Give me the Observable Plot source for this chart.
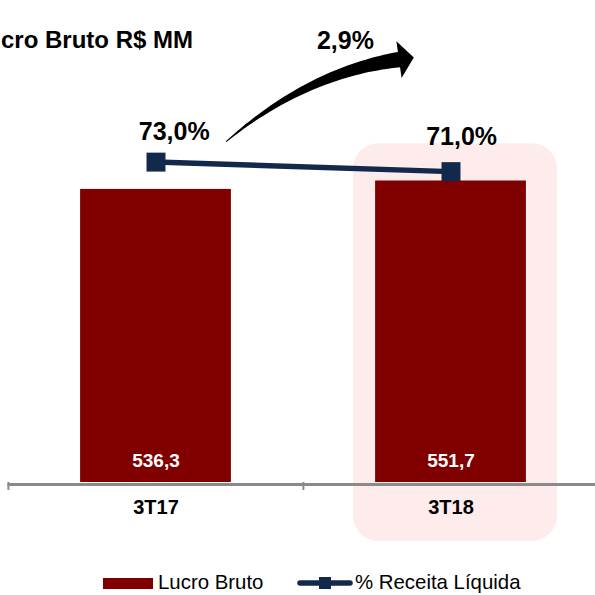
<!DOCTYPE html>
<html><head><meta charset="utf-8">
<script src="https://cdn.jsdelivr.net/npm/d3@7"></script>
<script src="https://cdn.jsdelivr.net/npm/@observablehq/plot@0.6"></script>
<style>
html,body{margin:0;padding:0;background:#fff;}
#wrap{position:relative;width:595px;height:595px;overflow:hidden;font-family:"Liberation Sans",Arial,sans-serif;}
#title{position:absolute;right:402px;top:28px;font-size:24px;line-height:24px;font-weight:bold;white-space:nowrap;color:#000;}
.legtxt{position:absolute;top:572px;font-size:20.4px;line-height:20px;white-space:nowrap;color:#000;}
</style></head><body>
<div id="wrap"><div id="chart"></div><div id="title">Lucro Bruto R$ MM</div><div id="legend"></div></div>
<script>
const categories = ["3T17", "3T18"];
const lucroBruto = [536.3, 551.7];
const receitaPct = [73.0, 71.0];
const valueLabels = ["536,3", "551,7"];
const pctLabels = ["73,0%", "71,0%"];
const growthLabel = "2,9%";
const highlightCategory = "3T18";
const seriesNames = ["Lucro Bruto", "% Receita Líquida"];

const BAR = "#800000", NAVY = "#13294b", GRAY = "#8a8a8a", PINK = "#feecec";
const FONT = "Liberation Sans, Arial, sans-serif";
const W = 595, H = 560, ML = 7.5, MR = -3, MB = 78, MT = 0;
const yDomain = [0, 882];
const pctAxis = [5.6, 107];
const pctToY = p => (p - pctAxis[0]) / (pctAxis[1] - pctAxis[0]) * yDomain[1];
const step = (W - ML - MR) / categories.length;

const rows = categories.map((c, i) => ({cat: c, value: lucroBruto[i], pct: receitaPct[i], vLabel: valueLabels[i], pLabel: pctLabels[i]}));

function arrowMark(index, scales, values, dims) {
  const plotBottom = dims.height - dims.marginBottom;
  const yPx = v => plotBottom - v / yDomain[1] * (plotBottom - dims.marginTop);
  const cx = i => dims.marginLeft + step * (i + 0.5);
  const my = yPx(pctToY(receitaPct[0]));
  const P0 = [cx(0) + 71, my - 20];
  const P2 = [cx(1) - 51.4, my - 102];
  const P1 = [P0[0] + 81, P0[1] - 69];
  const N = 40, left = [], right = [];
  let nEnd, tEnd;
  for (let k = 0; k <= N; k++) {
    const t = k / N;
    const bx = (1-t)*(1-t)*P0[0] + 2*(1-t)*t*P1[0] + t*t*P2[0];
    const by = (1-t)*(1-t)*P0[1] + 2*(1-t)*t*P1[1] + t*t*P2[1];
    const dx = 2*(1-t)*(P1[0]-P0[0]) + 2*t*(P2[0]-P1[0]);
    const dy = 2*(1-t)*(P1[1]-P0[1]) + 2*t*(P2[1]-P1[1]);
    const len = Math.hypot(dx, dy);
    const n = [-dy/len, dx/len];
    const w = 0.5 + 7.2 * t;
    left.push([bx + n[0]*w, by + n[1]*w]);
    right.push([bx - n[0]*w, by - n[1]*w]);
    if (k === N) { nEnd = n; tEnd = [dx/len, dy/len]; }
  }
  const hw = 18.5, hl = 15;
  const pts = [...left,
    [P2[0] + nEnd[0]*hw, P2[1] + nEnd[1]*hw],
    [P2[0] + tEnd[0]*hl, P2[1] + tEnd[1]*hl],
    [P2[0] - nEnd[0]*hw, P2[1] - nEnd[1]*hw],
    ...right.reverse()];
  const g = d3.create("svg:g");
  g.append("path").attr("d", "M" + pts.map(p => p[0].toFixed(2) + "," + p[1].toFixed(2)).join("L") + "Z").attr("fill", "#000");
  g.append("text").attr("x", P2[0] - 53.5).attr("y", P2[1] - 19).attr("dy", "0.32em")
    .attr("text-anchor", "middle").attr("font-size", 25).attr("font-weight", "bold")
    .attr("font-family", FONT).attr("fill", "#000").text(growthLabel);
  return g.node();
}

const chart = Plot.plot({
  width: W, height: H,
  marginLeft: ML, marginRight: MR, marginTop: MT, marginBottom: MB,
  style: {fontFamily: FONT, background: "transparent", overflow: "visible"},
  x: {type: "band", domain: categories, padding: 0, axis: null},
  y: {domain: yDomain, axis: null},
  marks: [
    Plot.barY([highlightCategory], {x: d => d, y1: d => -108, y2: d => 620, fill: PINK, rx: 25, insetLeft: 50.2, insetRight: 41}),
    Plot.barY(rows, {x: "cat", y: "value", fill: BAR, insetLeft: 72.1, insetRight: 72.1}),
    Plot.ruleY([0], {stroke: GRAY, strokeWidth: 3, dy: 2}),
    Plot.ruleX(categories, {x: d => d, y1: d => 0, y2: d => -14.6, dx: -step / 2, stroke: GRAY, strokeWidth: 2}),
    Plot.text(categories, {x: d => d, y: d => 0, dy: 25, text: d => d, fontSize: 20, fontWeight: "bold", fill: "#000", fontFamily: FONT}),
    Plot.text(rows, {x: "cat", y: d => 0, dy: -22, text: "vLabel", fontSize: 19, fontWeight: "bold", fill: "#fff", fontFamily: FONT}),
    Plot.line(rows, {x: "cat", y: d => pctToY(d.pct), stroke: NAVY, strokeWidth: 5.5}),
    Plot.dot(rows, {x: "cat", y: d => pctToY(d.pct), symbol: "square", r: 10.7, fill: NAVY, stroke: "none"}),
    Plot.text([rows[0]], {x: "cat", y: d => pctToY(d.pct), dx: 18.2, dy: -30, text: "pLabel", fontSize: 25, fontWeight: "bold", fill: "#000", fontFamily: FONT}),
    Plot.text([rows[1]], {x: "cat", y: d => pctToY(d.pct), dx: 10.6, dy: -34.3, text: "pLabel", fontSize: 25, fontWeight: "bold", fill: "#000", fontFamily: FONT}),
    arrowMark
  ]
});
document.getElementById("chart").appendChild(chart);

// legend
const leg = document.getElementById("legend");
const sw = document.createElement("div");
sw.style.cssText = `position:absolute;left:103px;top:578px;width:50px;height:11px;background:${BAR};`;
leg.appendChild(sw);
const t1 = document.createElement("div"); t1.className = "legtxt"; t1.style.left = "158px"; t1.textContent = seriesNames[0];
leg.appendChild(t1);
const ls = d3.create("svg").attr("width", 58).attr("height", 16)
  .style("position", "absolute").style("left", "296px").style("top", "575px");
ls.append("line").attr("x1", 4).attr("x2", 54).attr("y1", 8).attr("y2", 8)
  .attr("stroke", NAVY).attr("stroke-width", 5.5).attr("stroke-linecap", "round");
ls.append("rect").attr("x", 23).attr("y", 2).attr("width", 12).attr("height", 12).attr("fill", NAVY);
leg.appendChild(ls.node());
const t2 = document.createElement("div"); t2.className = "legtxt"; t2.style.left = "355px"; t2.textContent = seriesNames[1];
leg.appendChild(t2);
</script>
</body></html>
